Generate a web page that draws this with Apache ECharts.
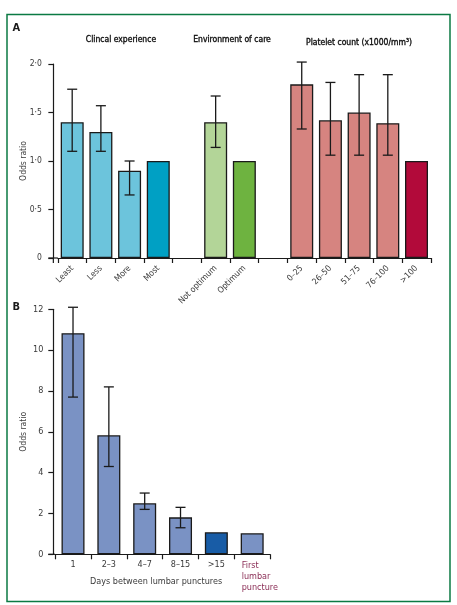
<!DOCTYPE html>
<html>
<head>
<meta charset="utf-8">
<script src="https://cdn.jsdelivr.net/npm/echarts@6/dist/echarts.min.js"></script>
<style>
html,body{margin:0;padding:0;background:#fff;}
#chart{width:457px;height:605px;}
</style>
</head>
<body>
<div id="chart"></div>
<script>
// ---------- Panel A data ----------
const catsA = ['Least', 'Less', 'More', 'Most', ' ', 'Not optimum', 'Optimum', '  ', '0–25', '26–50', '51–75', '76–100', '>100'];
const valuesA = [1.4, 1.3, 0.9, 1.0, null, 1.4, 1.0, null, 1.79, 1.42, 1.5, 1.39, 1.0];
const lowA = [1.1, 1.1, 0.65, null, null, 1.14, null, null, 1.33, 1.06, 1.06, 1.06, null];
const highA = [1.74, 1.57, 1.0, null, null, 1.67, null, null, 2.02, 1.81, 1.89, 1.89, null];
const yTicksA = ['0', '0·5', '1·0', '1·5', '2·0'];
const groupTitlesA = ['Clincal experience', 'Environment of care', 'Platelet count (x1000/mm³)'];

// ---------- Panel B data ----------
const catsB = ['1', '2–3', '4–7', '8–15', '>15', 'First lumbar puncture'];
const valuesB = [10.83, 5.83, 2.5, 1.81, 1.08, 1.03];
const lowB = [7.7, 4.3, 2.2, 1.3, null, null];
const highB = [12.1, 8.2, 3.0, 2.3, null, null];
const yTicksB = ['0', '2', '4', '6', '8', '10', '12'];
const xNameB = 'Days between lumbar punctures';
const yNameAll = 'Odds ratio';

// ---------- styles / layout ----------
const colorsA = ['#6cc4dc', '#6cc4dc', '#6cc4dc', '#00a0c4', null, '#b3d598', '#6eb340', null, '#d68480', '#d68480', '#d68480', '#d68480', '#b20a3a'];
const colorsB = ['#7a92c4', '#7a92c4', '#7a92c4', '#7a92c4', '#185ca6', '#7a92c4'];
const FONT = "'DejaVu Sans Condensed', Roboto, sans-serif";
const TXT = '#3a3a3a';
const AX = '#1a1a1a';
const gridA = { left: 57.85, top: 64, width: 373, height: 194 };
const gridB = { left: 55.1, top: 309.3, width: 215, height: 245 };
const offA = 4.5, offB = 1.8;

function errData(low, high) {
  const out = [];
  low.forEach((l, i) => { if (l != null && high[i] != null) out.push([i, l, high[i]]); });
  return out;
}
function renderErr(params, api) {
  const x = api.value(0);
  const lo = api.coord([x, api.value(1)]);
  const hi = api.coord([x, api.value(2)]);
  const w = 5;
  const st = { stroke: AX, lineWidth: 1.3 };
  return {
    type: 'group',
    children: [
      { type: 'line', shape: { x1: lo[0], y1: lo[1], x2: hi[0], y2: hi[1] }, style: st },
      { type: 'line', shape: { x1: hi[0] - w, y1: hi[1], x2: hi[0] + w, y2: hi[1] }, style: st },
      { type: 'line', shape: { x1: lo[0] - w, y1: lo[1], x2: lo[0] + w, y2: lo[1] }, style: st }
    ]
  };
}

const axisLineStyle = { lineStyle: { color: AX, width: 1.2 } };
const axisTickStyle = { show: true, length: 5, lineStyle: { color: AX, width: 1.2 } };
const titleStyle = { fontSize: 8.5, fill: '#111', stroke: '#111', lineWidth: 0.35, fontFamily: FONT, textAlign: 'center', textVerticalAlign: 'middle' };

const chart = echarts.init(document.getElementById('chart'), null, { renderer: 'canvas' });
chart.setOption({
  animation: false,
  backgroundColor: '#fff',
  textStyle: { fontFamily: FONT },
  grid: [gridA, gridB],
  xAxis: [
    {
      gridIndex: 0, type: 'category', data: catsA,
      axisLine: axisLineStyle, axisTick: axisTickStyle,
      axisLabel: { rotate: 45, margin: 9, fontSize: 8.5, color: TXT, fontFamily: FONT, interval: 0 }
    },
    {
      gridIndex: 1, type: 'category', data: catsB,
      axisLine: axisLineStyle, axisTick: axisTickStyle,
      name: xNameB, nameLocation: 'middle', nameGap: 23, nameMoveOverlap: false,
      nameTextStyle: { fontSize: 9, color: TXT, fontFamily: FONT, padding: [0, 13, 0, 0] },
      axisLabel: {
        margin: 6, fontSize: 9, color: TXT, fontFamily: FONT, interval: 0,
        formatter: function (v) {
          if (v === 'First lumbar puncture') return '{r|First\nlumbar\npuncture}';
          return v;
        },
        rich: { r: { color: '#8a2d55', fontSize: 9, fontFamily: FONT, lineHeight: 11, width: 21, align: 'left' } }
      }
    }
  ],
  yAxis: [
    {
      gridIndex: 0, type: 'value', min: 0, max: 2, interval: 0.5, offset: offA,
      name: yNameAll, nameLocation: 'middle', nameGap: 25, nameMoveOverlap: false,
      nameTextStyle: { fontSize: 8.5, color: TXT, fontFamily: FONT },
      axisLine: { show: true, lineStyle: { color: AX, width: 1.2 } },
      axisTick: axisTickStyle, splitLine: { show: false },
      axisLabel: { margin: 11.5, fontSize: 8.5, color: TXT, fontFamily: FONT,
        formatter: function (v) { return yTicksA[Math.round(v / 0.5)]; } }
    },
    {
      gridIndex: 1, type: 'value', min: 0, max: 12, interval: 2, offset: offB,
      name: yNameAll, nameLocation: 'middle', nameGap: 25, nameMoveOverlap: false,
      nameTextStyle: { fontSize: 8.5, color: TXT, fontFamily: FONT },
      axisLine: { show: true, lineStyle: { color: AX, width: 1.2 } },
      axisTick: axisTickStyle, splitLine: { show: false },
      axisLabel: { margin: 10, fontSize: 9, color: TXT, fontFamily: FONT,
        formatter: function (v) { return yTicksB[Math.round(v / 2)]; } }
    }
  ],
  series: [
    {
      type: 'bar', xAxisIndex: 0, yAxisIndex: 0, barWidth: 23,
      data: valuesA.map((v, i) => ({ value: v, itemStyle: { color: colorsA[i] || '#fff' } })),
      itemStyle: { borderColor: AX, borderWidth: 1.3 }
    },
    {
      type: 'custom', xAxisIndex: 0, yAxisIndex: 0, renderItem: renderErr,
      data: errData(lowA, highA), z: 5, clip: false
    },
    {
      type: 'bar', xAxisIndex: 1, yAxisIndex: 1, barWidth: 23,
      data: valuesB.map((v, i) => ({ value: v, itemStyle: { color: colorsB[i] } })),
      itemStyle: { borderColor: AX, borderWidth: 1.3 }
    },
    {
      type: 'custom', xAxisIndex: 1, yAxisIndex: 1, renderItem: renderErr,
      data: errData(lowB, highB), z: 5, clip: false
    }
  ],
  graphic: [
    { type: 'rect', shape: { x: 7, y: 14.5, width: 443, height: 587 },
      style: { fill: 'none', stroke: '#0b7a43', lineWidth: 1.5 }, silent: true },
    // short axis-line extensions joining the offset y-axes to the x-axes
    { type: 'line', shape: { x1: gridA.left - offA - 5, y1: gridA.top + gridA.height, x2: gridA.left, y2: gridA.top + gridA.height },
      style: { stroke: AX, lineWidth: 1.2 } },
    { type: 'line', shape: { x1: gridA.left - offA, y1: gridA.top + gridA.height, x2: gridA.left - offA, y2: gridA.top + gridA.height + 5 },
      style: { stroke: AX, lineWidth: 1.2 } },
    { type: 'line', shape: { x1: gridB.left - offB - 5, y1: gridB.top + gridB.height, x2: gridB.left, y2: gridB.top + gridB.height },
      style: { stroke: AX, lineWidth: 1.2 } },
    { type: 'text', x: 12.5, y: 28, style: { text: 'A', fontSize: 11, fontWeight: 'bold', fill: '#1a1a1a', fontFamily: FONT, textVerticalAlign: 'middle' } },
    { type: 'text', x: 12.5, y: 307, style: { text: 'B', fontSize: 11, fontWeight: 'bold', fill: '#1a1a1a', fontFamily: FONT, textVerticalAlign: 'middle' } },
    { type: 'text', x: 121, y: 40, style: Object.assign({ text: groupTitlesA[0] }, titleStyle) },
    { type: 'text', x: 232, y: 40, style: Object.assign({ text: groupTitlesA[1] }, titleStyle) },
    { type: 'text', x: 359, y: 43, style: Object.assign({ text: groupTitlesA[2] }, titleStyle) }
  ]
});
</script>
</body>
</html>
